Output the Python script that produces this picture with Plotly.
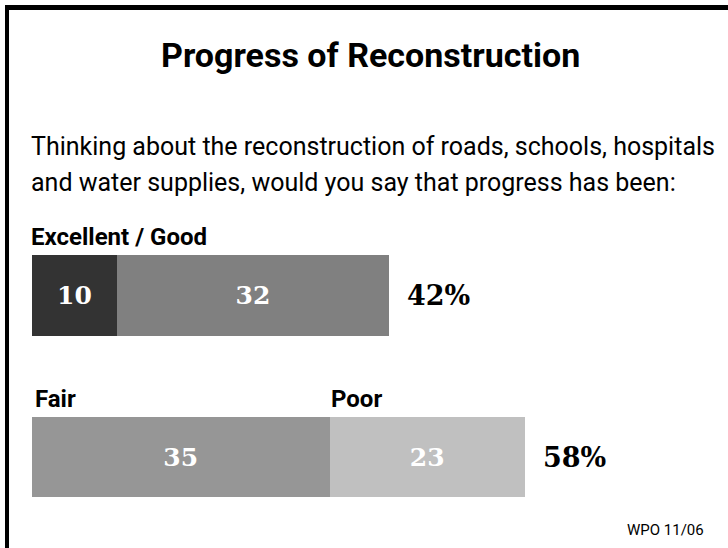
import plotly.graph_objects as go

# ---- data ----
rows = [0, 1]
row_labels = ["Excellent / Good", "Fair / Poor"]
first_names = ["Excellent", "Fair"]
first_values = [10, 35]
second_names = ["Good", "Poor"]
second_values = [32, 23]
totals_text = ["42%", "58%"]
first_colors = ["#333333", "#969696"]
second_colors = ["#808080", "#c0c0c0"]

W, H = 728, 548
SANS = "Roboto, sans-serif"
SERIF = "DejaVu Serif, serif"

def py(px):
    return 1 - px / H

def px_x(px):
    return px / W

fig = go.Figure()
fig.add_trace(go.Bar(
    y=rows, x=first_values, orientation="h", width=0.5,
    marker=dict(color=first_colors, line=dict(width=0)),
    text=[str(v) for v in first_values], textposition="inside",
    insidetextanchor="middle", textangle=0,
    textfont=dict(family=SERIF, size=25, color="white", weight="bold"),
    name="first", hoverinfo="skip",
))
fig.add_trace(go.Bar(
    y=rows, x=second_values, orientation="h", width=0.5,
    marker=dict(color=second_colors, line=dict(width=0)),
    text=[str(v) for v in second_values], textposition="inside",
    insidetextanchor="middle", textangle=0,
    textfont=dict(family=SERIF, size=25, color="white", weight="bold"),
    name="second", hoverinfo="skip",
))

annotations = []
# title
annotations.append(dict(text="<b>Progress of Reconstruction</b>", xref="paper", yref="paper",
                        x=px_x(370), y=py(55), xanchor="center", yanchor="middle", showarrow=False,
                        font=dict(family=SANS, size=34, color="black")))
# question
annotations.append(dict(text="Thinking about the reconstruction of roads, schools, hospitals",
                        xref="paper", yref="paper", x=px_x(29), y=py(147), xanchor="left", yanchor="middle",
                        showarrow=False, font=dict(family=SANS, size=25, color="black")))
annotations.append(dict(text="and water supplies, would you say that progress has been:",
                        xref="paper", yref="paper", x=px_x(29), y=py(182), xanchor="left", yanchor="middle",
                        showarrow=False, font=dict(family=SANS, size=25, color="black")))
# category labels above bars
annotations.append(dict(text="<b>Excellent / Good</b>", x=0, y=rows[0] - 0.25, xref="x", yref="y",
                        xanchor="left", yanchor="bottom", xshift=-3, yshift=2, showarrow=False,
                        font=dict(family=SANS, size=24, color="black")))
annotations.append(dict(text="<b>" + first_names[1] + "</b>", x=0, y=rows[1] - 0.25, xref="x", yref="y",
                        xanchor="left", yanchor="bottom", xshift=1, yshift=2, showarrow=False,
                        font=dict(family=SANS, size=24, color="black")))
annotations.append(dict(text="<b>" + second_names[1] + "</b>", x=first_values[1], y=rows[1] - 0.25,
                        xref="x", yref="y", xanchor="left", yanchor="bottom", xshift=-1, yshift=2,
                        showarrow=False, font=dict(family=SANS, size=24, color="black")))
# totals
for r, a, b, t in zip(rows, first_values, second_values, totals_text):
    annotations.append(dict(text="<b>" + t + "</b>", x=a + b, y=r, xref="x", yref="y",
                            xanchor="left", yanchor="middle", xshift=16, showarrow=False,
                            font=dict(family=SERIF, size=27, color="black")))
# source
annotations.append(dict(text="WPO 11/06", xref="paper", yref="paper", x=px_x(706), y=py(530),
                        xanchor="right", yanchor="middle", showarrow=False,
                        font=dict(family=SANS, size=15, color="black")))

shapes = [
    dict(type="line", xref="paper", yref="paper", x0=px_x(5), x1=1, y0=py(7.5), y1=py(7.5),
         line=dict(color="black", width=5)),
    dict(type="line", xref="paper", yref="paper", x0=px_x(7), x1=px_x(7), y0=py(5), y1=0,
         line=dict(color="black", width=4)),
]

fig.update_layout(
    width=W, height=H, barmode="stack", showlegend=False,
    margin=dict(l=0, r=0, t=0, b=0),
    paper_bgcolor="white", plot_bgcolor="white",
    xaxis=dict(range=[-32 / 8.5, (W - 32) / 8.5], visible=False, fixedrange=True),
    yaxis=dict(range=[(H - 295.5) / 161.5, -295.5 / 161.5], visible=False, fixedrange=True),
    annotations=annotations, shapes=shapes,
)

fig.write_html("out.html", config={"displayModeBar": False},
               post_script="document.body.style.margin='0';document.body.style.padding='0';")
